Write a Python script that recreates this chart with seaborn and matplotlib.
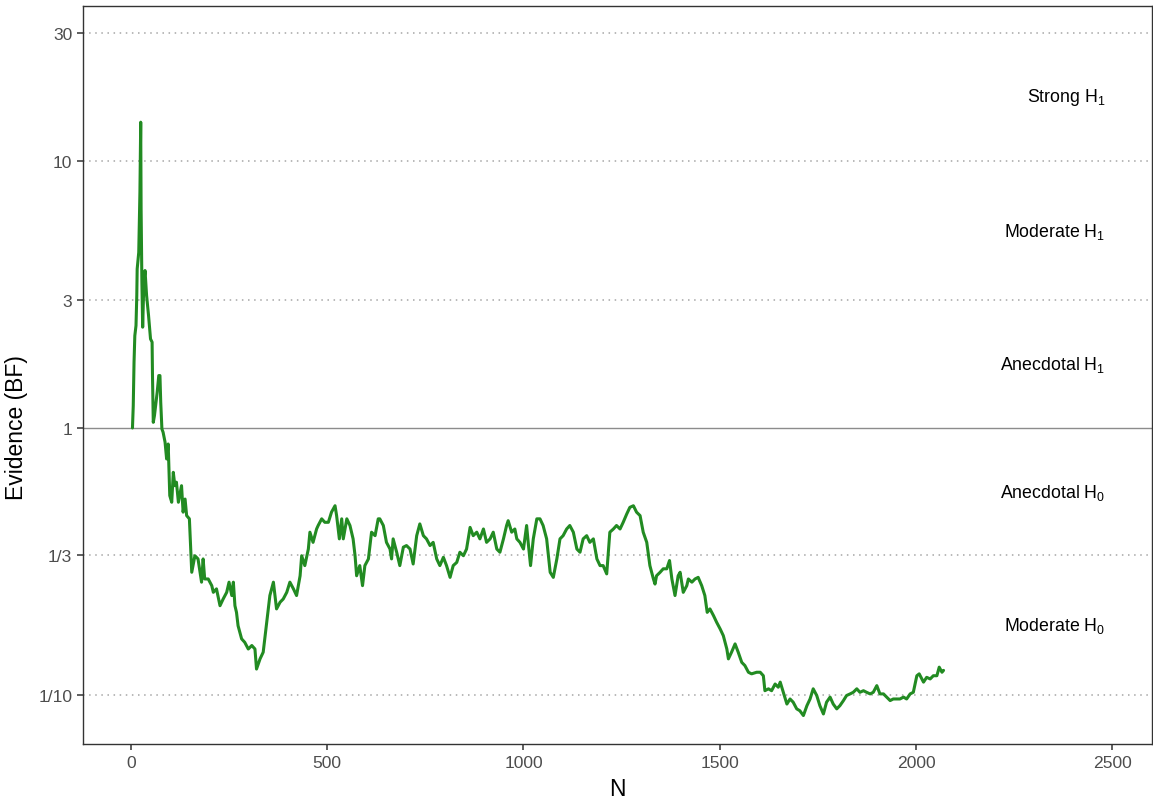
import numpy as np
import pandas as pd
import matplotlib
matplotlib.use("Agg")
import matplotlib.pyplot as plt
import seaborn as sns

# Sequential Bayes factor trajectory: sample size N and log10(BF)
n_obs = [
    4, 6, 8, 10, 13, 15, 16, 20, 23, 25, 26, 28, 30, 33, 36, 40, 45, 50, 54, 55,
    57, 60, 64, 67, 71, 74, 76, 79,
    82, 87, 91, 95, 99, 104, 108, 112, 116, 121, 129, 133, 138, 142, 149, 152,
    155, 163, 171, 180, 184, 188, 197, 206, 210, 218, 227, 235, 244, 250, 257,
    261, 265, 269, 273,
    282, 290, 299, 308, 316, 320, 329, 337, 346, 354, 363, 371, 380, 388, 397,
    405, 414, 422, 431, 435, 443, 452, 456, 464, 473, 477, 486, 494, 503, 511,
    520, 524, 531, 537, 541, 550, 558, 566, 571, 575, 583, 590, 596, 605, 613,
    622, 630,
    634, 643, 651, 660, 664, 668, 677, 685, 694, 702, 711, 719, 728, 736, 745,
    753, 762, 770, 779, 787, 796, 804, 813, 821, 830, 838, 847, 855, 864, 872,
    881, 889, 898, 906, 915, 923, 932, 940, 949, 957, 961, 970, 978, 983, 991,
    1000, 1008, 1012, 1018, 1025, 1034, 1042, 1050, 1059, 1068, 1076, 1085,
    1093, 1101, 1110, 1118, 1127, 1136, 1144, 1152, 1161, 1169, 1178, 1187,
    1195, 1203, 1212, 1220, 1229, 1237, 1246, 1254, 1263, 1271, 1280, 1288,
    1297, 1305, 1314, 1322, 1331, 1335, 1339, 1348, 1356, 1365, 1372, 1378,
    1386, 1394, 1399, 1407, 1416, 1420, 1429, 1437, 1445, 1454, 1462, 1468,
    1475, 1484, 1492, 1501, 1509, 1518, 1522, 1530, 1539, 1547, 1556, 1564,
    1573, 1581, 1594,
    1603, 1611, 1615, 1624, 1632, 1641, 1649, 1654, 1662, 1671, 1679, 1687,
    1696, 1704, 1713, 1722, 1730, 1738, 1747, 1755, 1764, 1772, 1781, 1789,
    1798, 1806, 1815, 1823, 1832, 1840, 1849, 1857, 1866, 1874, 1883, 1891,
    1900, 1908, 1917, 1925, 1934, 1942, 1951, 1959, 1968, 1976, 1985, 1993,
    2002, 2008, 2019, 2027, 2036, 2044, 2053, 2059, 2066, 2070,
]

log10_bf = [
    0.000, 0.083, 0.246, 0.345, 0.383, 0.495, 0.595, 0.657, 0.882, 1.144,
    0.819, 0.545, 0.377, 0.545, 0.589, 0.495, 0.420, 0.333, 0.321, 0.196,
    0.021, 0.046, 0.096, 0.134, 0.196, 0.196, 0.096, -0.004,
    -0.016, -0.053, -0.116, -0.060, -0.253, -0.278, -0.166, -0.216, -0.203,
    -0.278, -0.216, -0.315, -0.266, -0.328, -0.340, -0.440, -0.540, -0.478,
    -0.490, -0.577, -0.490, -0.565, -0.565, -0.590, -0.615, -0.602, -0.665,
    -0.640, -0.615, -0.577, -0.627, -0.577, -0.665, -0.690, -0.740,
    -0.789, -0.802, -0.827, -0.814, -0.827, -0.902, -0.864, -0.839, -0.727,
    -0.627, -0.577, -0.677, -0.652, -0.640, -0.615, -0.577, -0.602, -0.627,
    -0.553, -0.478, -0.515, -0.453, -0.390, -0.428, -0.378, -0.365, -0.340,
    -0.353, -0.353, -0.315, -0.291, -0.328, -0.415, -0.340, -0.415, -0.340,
    -0.365, -0.415, -0.478, -0.553, -0.515, -0.590, -0.515, -0.490, -0.390,
    -0.403, -0.340,
    -0.340, -0.365, -0.428, -0.453, -0.490, -0.415, -0.465, -0.515, -0.446,
    -0.440, -0.453, -0.509, -0.403, -0.359, -0.403, -0.415, -0.440, -0.428,
    -0.490, -0.515, -0.484, -0.515, -0.559, -0.515, -0.503, -0.465, -0.478,
    -0.453, -0.372, -0.403, -0.390, -0.415, -0.378, -0.428, -0.415, -0.390,
    -0.453, -0.465, -0.415, -0.365, -0.347, -0.390, -0.378, -0.415, -0.428,
    -0.453, -0.365, -0.428, -0.515, -0.415, -0.340, -0.340, -0.365, -0.415,
    -0.540, -0.559, -0.490, -0.415, -0.403, -0.378, -0.365, -0.390, -0.453,
    -0.465, -0.415, -0.403, -0.428, -0.415, -0.490, -0.515, -0.515, -0.546,
    -0.390, -0.378, -0.365, -0.378, -0.353, -0.322, -0.297, -0.291, -0.315,
    -0.328, -0.390, -0.428, -0.515, -0.565, -0.584, -0.553, -0.540, -0.527,
    -0.527, -0.496, -0.565, -0.627, -0.553, -0.540, -0.615, -0.590, -0.565,
    -0.577, -0.565, -0.559, -0.590, -0.627, -0.690, -0.677, -0.702, -0.727,
    -0.752, -0.777, -0.827, -0.864, -0.839, -0.808, -0.839, -0.877, -0.889,
    -0.914, -0.920, -0.914,
    -0.914, -0.927, -0.983, -0.976, -0.983, -0.958, -0.970, -0.951, -0.989,
    -1.033, -1.014, -1.026, -1.051, -1.058, -1.076, -1.039, -1.014, -0.976,
    -1.001, -1.039, -1.070, -1.026, -1.007, -1.033, -1.051, -1.039, -1.020,
    -1.001, -0.995, -0.989, -0.976, -0.989, -0.983, -0.989, -0.995, -0.989,
    -0.964, -0.995, -0.995, -1.007, -1.020, -1.014, -1.014, -1.014, -1.007,
    -1.014, -0.995, -0.989, -0.927, -0.920, -0.951, -0.933, -0.939, -0.927,
    -0.927, -0.895, -0.914, -0.907,
]

# Evidence category thresholds and their tick labels
threshold_values = [1 / 10, 1 / 3, 1, 3, 10, 30]
threshold_labels = ["1/10", "1/3", "1", "3", "10", "30"]

# Category names placed between thresholds (geometric midpoints)
category_labels = [
    "Strong $\\mathregular{H_1}$",
    "Moderate $\\mathregular{H_1}$",
    "Anecdotal $\\mathregular{H_1}$",
    "Anecdotal $\\mathregular{H_0}$",
    "Moderate $\\mathregular{H_0}$",
]
category_bf = [np.sqrt(10 * 30), np.sqrt(3 * 10), np.sqrt(3), 1 / np.sqrt(3), 1 / np.sqrt(30)]

x_ticks = [0, 500, 1000, 1500, 2000, 2500]

df = pd.DataFrame({"N": n_obs, "BF": 10 ** np.array(log10_bf)})

sns.set_theme(style="white")
plt.rcParams["font.family"] = ["Liberation Sans", "DejaVu Sans"]
plt.rcParams["mathtext.fontset"] = "custom"
plt.rcParams["mathtext.rm"] = "Liberation Sans"

fig = plt.figure(figsize=(11.53, 8.03), dpi=100)
ax = fig.add_axes([83 / 1153, 58 / 803, 1069 / 1153, 738 / 803])

# Reference lines at the category boundaries
for v in threshold_values:
    if v == 1:
        ax.axhline(v, color="#8c8c8c", linewidth=1.0, zorder=1)
    else:
        ax.axhline(v, color="#a6a6a6", linewidth=1.1, linestyle=(0, (1, 3)), zorder=1)

sns.lineplot(data=df, x="N", y="BF", ax=ax, color="#228B22", linewidth=2.2,
             estimator=None, sort=False, zorder=3)

ax.set_yscale("log")
ax.set_ylim(0.0657, 37.9)
ax.set_xlim(-122, 2601)
ax.set_yticks(threshold_values)
ax.set_yticklabels(threshold_labels)
ax.minorticks_off()
ax.set_xticks(x_ticks)
ax.set_xticklabels([str(t) for t in x_ticks])

for lab, yv in zip(category_labels, category_bf):
    ax.text(2482, yv, lab, ha="right", va="center", fontsize=12.8, color="black")

ax.set_xlabel("N", fontsize=16.5, color="black")
ax.set_ylabel("Evidence (BF)", fontsize=16.5, color="black")
ax.xaxis.set_label_coords(0.5, -0.045)
ax.yaxis.set_label_coords(-0.0515, 0.43)

ax.tick_params(axis="both", which="major", labelsize=12.6, labelcolor="#4D4D4D",
               color="#333333", length=4.5, width=1.1, direction="out",
               left=True, bottom=True, pad=3.2)
for sp in ax.spines.values():
    sp.set_visible(True)
    sp.set_color("#333333")
    sp.set_linewidth(1.0)

fig.savefig("out.png", dpi=100)
